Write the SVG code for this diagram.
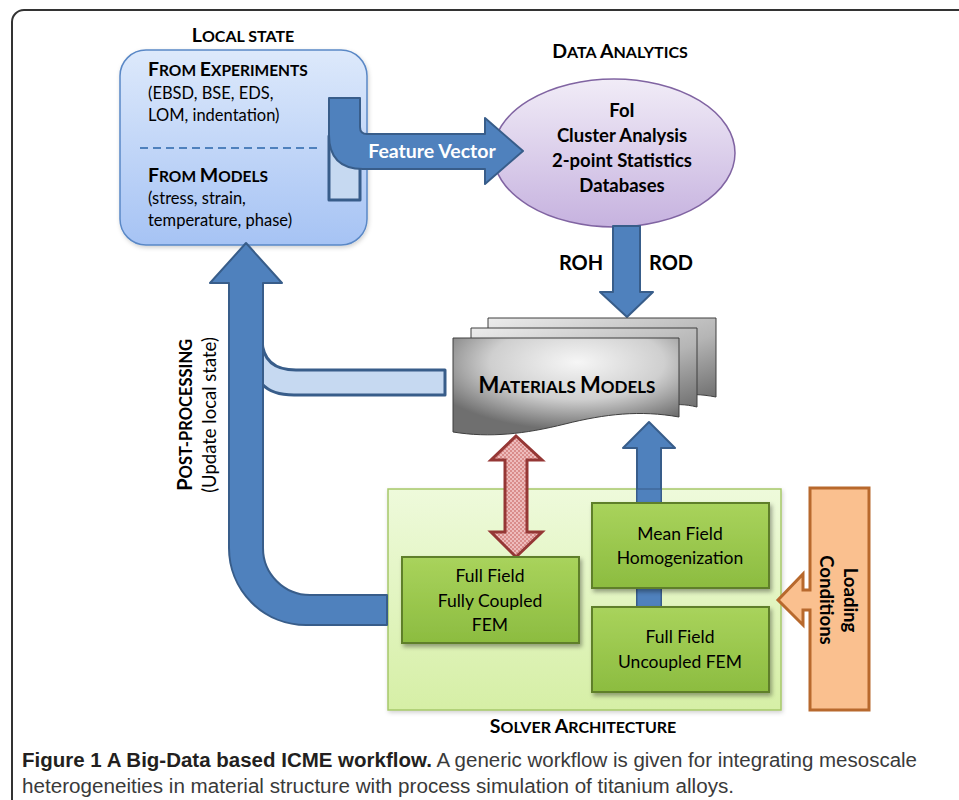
<svg xmlns="http://www.w3.org/2000/svg" width="959" height="800" viewBox="0 0 959 800">
<defs>
  <linearGradient id="gLocal" x1="0" y1="0" x2="0" y2="1">
    <stop offset="0" stop-color="#dde9fb"/>
    <stop offset="1" stop-color="#a6c3f4"/>
  </linearGradient>
  <linearGradient id="gEll" x1="0" y1="0" x2="0" y2="1">
    <stop offset="0" stop-color="#f1ecf7"/>
    <stop offset="1" stop-color="#c6b2df"/>
  </linearGradient>
  <linearGradient id="gSolver" x1="0" y1="0" x2="0" y2="1">
    <stop offset="0" stop-color="#eefadb"/>
    <stop offset="1" stop-color="#d6efa6"/>
  </linearGradient>
  <linearGradient id="gGreen" x1="0" y1="0" x2="0" y2="1">
    <stop offset="0" stop-color="#a9d35c"/>
    <stop offset="1" stop-color="#8cbc40"/>
  </linearGradient>
  <radialGradient id="gDocFront" cx="0.55" cy="0.25" r="0.7">
    <stop offset="0" stop-color="#f6f6f6"/>
    <stop offset="0.55" stop-color="#cfcfcf"/>
    <stop offset="1" stop-color="#6f6f6f"/>
  </radialGradient>
  <linearGradient id="gDocBack" x1="0" y1="0" x2="1" y2="1">
    <stop offset="0" stop-color="#ececec"/>
    <stop offset="0.6" stop-color="#b5b5b5"/>
    <stop offset="1" stop-color="#707070"/>
  </linearGradient>
  <pattern id="dots" width="4" height="4" patternUnits="userSpaceOnUse">
    <rect width="4" height="4" fill="#eebcbc"/>
    <circle cx="1" cy="1" r="0.8" fill="#c0504d"/>
    <circle cx="3" cy="3" r="0.8" fill="#c0504d"/>
  </pattern>
  <filter id="shadow" x="-10%" y="-10%" width="130%" height="130%">
    <feDropShadow dx="2" dy="3" stdDeviation="2" flood-color="#000" flood-opacity="0.35"/>
  </filter>
  <filter id="softShadow" x="-10%" y="-10%" width="130%" height="130%">
    <feDropShadow dx="1" dy="2" stdDeviation="2" flood-color="#000" flood-opacity="0.18"/>
  </filter>
</defs>
<style>
  text { font-family: Lato, "Open Sans", "Liberation Sans", sans-serif; fill: #000; }
  .b { font-weight: bold; }
  .t16 { font-size: 16.5px; }
  .box { font-size: 17.5px; }
  .blueArrow { fill: #4f81bd; stroke: #385d8a; stroke-width: 2; stroke-linejoin: round; }
  .lightPipe { fill: #c6d9f1; stroke: #385d8a; stroke-width: 3; stroke-linejoin: round; }
  .doc { stroke: #3f3f3f; stroke-width: 1; }
  .green { fill: url(#gGreen); stroke: #5f7f2a; stroke-width: 2; }
  .cap { font-family: "Liberation Sans", Arial, sans-serif; font-size: 20px; }
</style>

<!-- outer frame -->
<rect x="12" y="10" width="1000" height="900" rx="12" fill="none" stroke="#333" stroke-width="2"/>

<!-- Solver architecture (container, drawn first) -->
<g id="solver-architecture">
  <rect x="388" y="489" width="393" height="221" fill="url(#gSolver)" stroke="#a6c86a" stroke-width="1.5" filter="url(#softShadow)"/>
  <text class="b" x="583" y="733" text-anchor="middle"><tspan font-size="19.5">S</tspan><tspan font-size="16">OLVER </tspan><tspan font-size="19.5">A</tspan><tspan font-size="16">RCHITECTURE</tspan></text>
</g>

<!-- Data Analytics -->
<g id="data-analytics">
  <text class="b" x="620" y="58" text-anchor="middle"><tspan font-size="19.5">D</tspan><tspan font-size="16">ATA </tspan><tspan font-size="19.5">A</tspan><tspan font-size="16">NALYTICS</tspan></text>
  <ellipse cx="614" cy="153" rx="121" ry="74" fill="url(#gEll)" stroke="#8064a2" stroke-width="1.5"/>
  <text class="b" x="622" y="117" text-anchor="middle" font-size="18.5">FoI</text>
  <text class="b" x="622" y="142" text-anchor="middle" font-size="18.5">Cluster Analysis</text>
  <text class="b" x="622" y="167" text-anchor="middle" font-size="18.5">2-point Statistics</text>
  <text class="b" x="622" y="192" text-anchor="middle" font-size="18.5">Databases</text>
</g>

<!-- Local state -->
<g id="local-state">
  <text class="b" x="243" y="42" text-anchor="middle"><tspan font-size="19.5">L</tspan><tspan font-size="16">OCAL STATE</tspan></text>
  <rect x="120" y="50" width="247" height="195" rx="26" fill="url(#gLocal)" stroke="#5a88c6" stroke-width="1.5" filter="url(#softShadow)"/>
  <text class="b" x="148" y="76"><tspan font-size="19.5">F</tspan><tspan font-size="15.5">ROM </tspan><tspan font-size="19.5">E</tspan><tspan font-size="15.5">XPERIMENTS</tspan></text>
  <text class="t16" x="148" y="99">(EBSD, BSE, EDS,</text>
  <text class="t16" x="148" y="121">LOM, indentation)</text>
  <line x1="140" y1="148" x2="322" y2="148" stroke="#4f81bd" stroke-width="2" stroke-dasharray="8,5"/>
  <text class="b" x="148" y="182"><tspan font-size="19.5">F</tspan><tspan font-size="15.5">ROM </tspan><tspan font-size="19.5">M</tspan><tspan font-size="15.5">ODELS</tspan></text>
  <text class="t16" x="148" y="204">(stress, strain,</text>
  <text class="t16" x="148" y="226">temperature, phase)</text>
</g>

<!-- connectors -->
<g id="connectors">
  <!-- light branch from Materials Models -->
  <path class="lightPipe" d="M262,340 Q263,370 296,370 H445 V395 H294 Q272,395 262,384 Z"/>
  <!-- post-processing arrow up to local state -->
  <path class="blueArrow" d="M387,595 H310 A47,47 0 0 1 263,548 V283 H282 L246,243 L210,283 H229 V548 A77,77 0 0 0 306,625 H387 Z"/>
  <!-- ROH/ROD down arrow -->
  <path class="blueArrow" d="M613,226 H640 V292 H653 L627,317 L600,292 H613 Z"/>
  <!-- up arrow solver -> materials -->
  <path class="blueArrow" d="M637,607 V448 H623 L649,422 L675,448 H661 V607 Z"/>
  <!-- red double arrow -->
  <path d="M505,460 H491 L516,436 L542,460 H527 V532 H542 L516,557 L491,532 H505 Z" fill="url(#dots)" stroke="#953735" stroke-width="3" stroke-linejoin="miter"/>
  <!-- Feature Vector arrow -->
  <rect x="329" y="136" width="31" height="64" class="lightPipe" stroke-width="2.5"/>
  <path class="blueArrow" stroke-width="3" d="M329,98 H360 V127 Q360,134 367,134 H485 V118 L523,151 L485,184 V169 H363 Q329,169 329,135 Z"/>
  <text class="b" x="432" y="158" text-anchor="middle" font-size="19.5" style="fill:#fff">Feature Vector</text>
</g>

<g id="roh-rod-labels">
  <text class="b" x="581" y="270" text-anchor="middle" font-size="20">ROH</text>
  <text class="b" x="671" y="270" text-anchor="middle" font-size="20">ROD</text>
</g>

<!-- Materials Models -->
<g id="materials-models">
  <path class="doc" fill="url(#gDocBack)" d="M488,318 H716 V397 C700,394 690,394 680,396 L488,396 Z"/>
  <path class="doc" fill="url(#gDocBack)" d="M471,328 H697 V407 C685,404 675,404 665,406 L471,406 Z"/>
  <path class="doc" fill="url(#gDocFront)" d="M453,338 H679 V417 C640,410 605,414 565,424 C525,434 490,438 453,432 Z"/>
  <text class="b" x="567" y="393" text-anchor="middle"><tspan font-size="22">M</tspan><tspan font-size="17">ATERIALS </tspan><tspan font-size="22">M</tspan><tspan font-size="17">ODELS</tspan></text>
</g>

<!-- Post-processing label -->
<g id="post-processing-label">
  <text class="b" transform="translate(192,415) rotate(-90)" text-anchor="middle"><tspan font-size="20.5">P</tspan><tspan font-size="16.5">OST-PROCESSING</tspan></text>
  <text transform="translate(216,415) rotate(-90)" text-anchor="middle" font-size="18.5">(Update local state)</text>
</g>

<!-- up arrow shaft shown on top of the solver box -->
<g id="solver-uplink">
  <rect x="637" y="489" width="24" height="118" fill="#4f81bd" stroke="#385d8a" stroke-width="1"/>
</g>

<g id="full-field-coupled">
  <rect class="green" x="402" y="557" width="177" height="86" filter="url(#shadow)"/>
  <text class="box" x="490" y="582" text-anchor="middle">Full Field</text>
  <text class="box" x="490" y="607" text-anchor="middle">Fully Coupled</text>
  <text class="box" x="490" y="631" text-anchor="middle">FEM</text>
</g>

<g id="mean-field">
  <rect class="green" x="592" y="503" width="177" height="85" filter="url(#shadow)"/>
  <text class="box" x="680" y="540" text-anchor="middle">Mean Field</text>
  <text class="box" x="680" y="564" text-anchor="middle">Homogenization</text>
</g>

<g id="full-field-uncoupled">
  <rect class="green" x="592" y="607" width="177" height="85" filter="url(#shadow)"/>
  <text class="box" x="680" y="643" text-anchor="middle">Full Field</text>
  <text class="box" x="680" y="668" text-anchor="middle">Uncoupled FEM</text>
</g>

<!-- Loading conditions -->
<g id="loading-conditions">
  <path d="M810,488 H869 V710 H810 V610 H803 V625 L778,600 L803,574 V590 H810 Z" fill="#fac08f" stroke="#b8692d" stroke-width="3" stroke-linejoin="miter"/>
  <text class="b" transform="translate(844,600) rotate(90)" text-anchor="middle" font-size="18.5">Loading</text>
  <text class="b" transform="translate(820,600) rotate(90)" text-anchor="middle" font-size="18.5">Conditions</text>
</g>

<!-- Caption -->
<g id="caption">
  <text class="cap" x="22" y="767" textLength="895" lengthAdjust="spacingAndGlyphs" style="fill:#3a3a3a"><tspan class="b" style="fill:#231f20">Figure 1 A Big-Data based ICME workflow.</tspan> A generic workflow is given for integrating mesoscale</text>
  <text class="cap" x="22" y="793" textLength="712" lengthAdjust="spacingAndGlyphs" style="fill:#3a3a3a">heterogeneities in material structure with process simulation of titanium alloys.</text>
</g>
</svg>
